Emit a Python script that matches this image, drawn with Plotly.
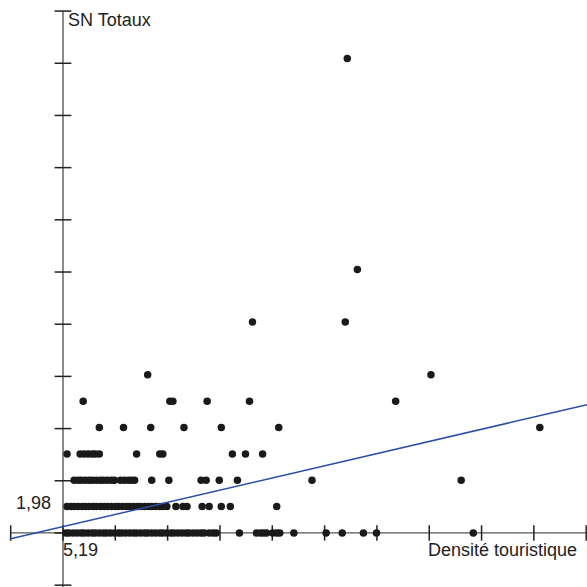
import plotly.graph_objects as go

# ---- data (Densité touristique, SN Totaux) ----
row0_x = [0.3, 0.6, 1.0, 1.4, 1.8, 2.1, 2.5, 2.9, 3.2, 3.6, 4.0, 4.3, 4.7, 5.1, 5.5, 5.8, 6.2, 6.6,
          7.0, 7.3, 7.7, 8.1, 8.4, 8.8, 9.2, 9.6, 9.9, 10.3, 10.7, 11.0, 11.4, 11.8, 12.2, 12.5,
          12.9, 13.3, 13.7, 14.0, 14.5, 14.9, 15.2, 17.5, 19.2, 19.6, 19.9, 20.2, 20.8, 21.2,
          21.5, 22.9, 26.1, 27.7, 29.8, 31.1, 40.7]
row1_x = [0.4, 0.8, 1.1, 1.5, 1.9, 2.2, 2.6, 3.0, 3.3, 3.7, 4.1, 4.4, 4.8, 5.2, 5.5, 5.9, 6.3,
          6.6, 7.0, 7.4, 7.7, 8.1, 8.5, 8.8, 9.2, 9.6, 9.9, 10.3, 11.2, 11.9, 12.3, 13.8, 14.5,
          15.7, 16.6, 21.2]
row2_x = [1.1, 1.5, 1.8, 2.2, 2.6, 2.9, 3.3, 3.7, 4.0, 4.4, 4.8, 5.1, 5.7, 6.1, 6.5, 6.8, 7.1,
          8.8, 10.5, 13.7, 14.2, 15.5, 17.3, 24.7, 39.5]
row3_x = [0.4, 1.7, 2.1, 2.5, 2.9, 3.2, 3.6, 7.3, 9.6, 9.9, 16.8, 18.1, 19.8]
row4_x = [3.6, 6.0, 8.7, 12.0, 15.7, 21.4, 47.3]
row5_x = [2.0, 10.6, 10.9, 14.3, 18.5, 33.0]
row6_x = [8.4, 36.5]
row8_x = [18.8, 28.0]
row10_x = [29.2]
row18_x = [28.2]

rows = {0: row0_x, 1: row1_x, 2: row2_x, 3: row3_x, 4: row4_x, 5: row5_x,
        6: row6_x, 8: row8_x, 10: row10_x, 18: row18_x}

# regression line
reg_intercept = 0.24
reg_slope = 0.089

# axis scale units (tick steps)
x_step = 5.19
y_step = 1.98
x_ticks = [k * x_step for k in range(-1, 11)]
y_ticks = [k * y_step for k in range(-1, 11)]

x_label = "Densité touristique"
y_label = "SN Totaux"
x_unit_label = "5,19"
y_unit_label = "1,98"

xs, ys = [], []
for yv, xl in rows.items():
    for xv in xl:
        xs.append(xv)
        ys.append(yv)

X_MIN, X_MAX = -6.25, 51.98
Y_MIN, Y_MAX = -2.05, 20.22

fig = go.Figure()

# axes
fig.add_trace(go.Scatter(x=[0, 0], y=[Y_MIN, y_ticks[-1]], mode="lines",
                         line=dict(color="#8c8c8c", width=2), hoverinfo="skip"))
fig.add_trace(go.Scatter(x=[x_ticks[0], X_MAX], y=[0, 0], mode="lines",
                         line=dict(color="#555555", width=1.2), hoverinfo="skip"))
# ticks
fig.add_trace(go.Scatter(x=[0] * len(y_ticks), y=y_ticks, mode="markers",
                         marker=dict(symbol="line-ew", size=12, line=dict(color="#222222", width=1.5)),
                         hoverinfo="skip"))
fig.add_trace(go.Scatter(x=x_ticks, y=[0] * len(x_ticks), mode="markers",
                         marker=dict(symbol="line-ns", size=11, line=dict(color="#222222", width=1.5)),
                         hoverinfo="skip"))

# points
fig.add_trace(go.Scatter(x=xs, y=ys, mode="markers",
                         marker=dict(color="#1a1a1a", size=7.5, line=dict(width=0))))

# regression line
lx = [-5.3, X_MAX]
fig.add_trace(go.Scatter(x=lx, y=[reg_intercept + reg_slope * v for v in lx], mode="lines",
                         line=dict(color="#2b4ea6", width=1.5), hoverinfo="skip"))

font = dict(family="Liberation Sans, Arial, sans-serif", size=18, color="#222222")
fig.add_annotation(x=0.25, y=19.46, text=y_label, showarrow=False, xanchor="left",
                   yanchor="middle", font=font)
fig.add_annotation(x=51.2, y=-0.65, text=x_label, showarrow=False, xanchor="right",
                   yanchor="middle", font=font)
fig.add_annotation(x=-1.0, y=1.13, text=y_unit_label, showarrow=False, xanchor="right",
                   yanchor="middle", font=font)
fig.add_annotation(x=-0.2, y=-0.66, text=x_unit_label, showarrow=False, xanchor="left",
                   yanchor="middle", font=font)

fig.update_layout(
    width=587, height=587, margin=dict(l=0, r=0, t=0, b=0),
    plot_bgcolor="white", paper_bgcolor="white", showlegend=False,
    xaxis=dict(range=[X_MIN, X_MAX], visible=False),
    yaxis=dict(range=[Y_MIN, Y_MAX], visible=False),
)

fig.write_html("out.html", config={"displayModeBar": False},
               post_script="document.body.style.margin='0';document.body.style.overflow='hidden';")
